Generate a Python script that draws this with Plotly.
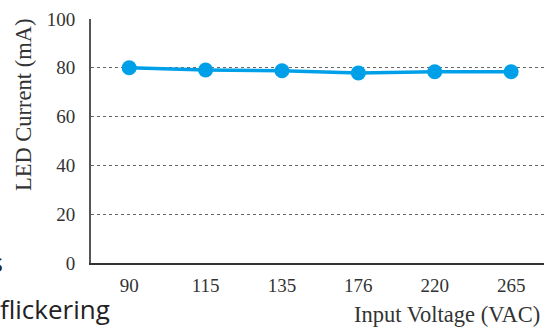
import plotly.graph_objects as go

voltages = ["90", "115", "135", "176", "220", "265"]
led_current = [80.0, 79.1, 78.8, 77.9, 78.4, 78.4]
y_ticks = [0, 20, 40, 60, 80, 100]

W, H = 544, 327
L, R, T, B = 91, 0, 19, 64

fig = go.Figure()
fig.add_trace(go.Scatter(
    x=voltages, y=led_current, mode="lines+markers",
    line=dict(color="#00a0e9", width=3.5),
    marker=dict(color="#00a0e9", size=15),
    cliponaxis=False, showlegend=False,
))

serif = "Liberation Serif, Times New Roman, serif"

fig.update_layout(
    width=W, height=H,
    margin=dict(l=L, r=R, t=T, b=B, pad=0),
    paper_bgcolor="white", plot_bgcolor="white",
    font=dict(family=serif, color="#333333", size=19),
    xaxis=dict(
        type="category", range=[-0.5, 5.43],
        showgrid=False, showline=True, linecolor="#333333", linewidth=1.5,
        ticks="", tickfont=dict(family=serif, size=19, color="#333333"),
        ticklabelstandoff=4, zeroline=False,
    ),
    yaxis=dict(
        range=[0, 100], tickvals=y_ticks, ticktext=[str(v) for v in y_ticks],
        showgrid=True, gridcolor="#666666", griddash="dot", gridwidth=1,
        showline=True, linecolor="#555555", linewidth=2,
        ticks="", tickfont=dict(family=serif, size=19, color="#333333"),
        ticklabelstandoff=10, zeroline=False,
    ),
)

def px_x(px):
    return (px - L) / (W - L - R)

def px_y(py):
    return 1 - (py - T) / (H - T - B)

fig.add_annotation(
    text="LED Current (mA)", textangle=-90, showarrow=False,
    xref="paper", yref="paper", x=px_x(23), y=px_y(105),
    xanchor="center", yanchor="middle",
    font=dict(family=serif, size=22.5, color="#333333"),
)
fig.add_annotation(
    text="Input Voltage (VAC)", showarrow=False,
    xref="paper", yref="paper", x=px_x(542), y=px_y(314),
    xanchor="right", yanchor="middle",
    font=dict(family=serif, size=22.5, color="#333333"),
)
fig.add_annotation(
    text="flickering", showarrow=False,
    xref="paper", yref="paper", x=px_x(-2), y=px_y(309),
    xanchor="left", yanchor="middle",
    font=dict(family="Open Sans, sans-serif", size=26, color="#222222"),
)
fig.add_annotation(
    text="s", showarrow=False,
    xref="paper", yref="paper", x=px_x(5), y=px_y(262),
    xanchor="right", yanchor="middle",
    font=dict(family="Open Sans, sans-serif", size=25, color="#222222"),
)

fig.write_html(
    "out.html",
    config={"displayModeBar": False},
    post_script="document.body.style.margin='0';document.body.style.padding='0';",
)
